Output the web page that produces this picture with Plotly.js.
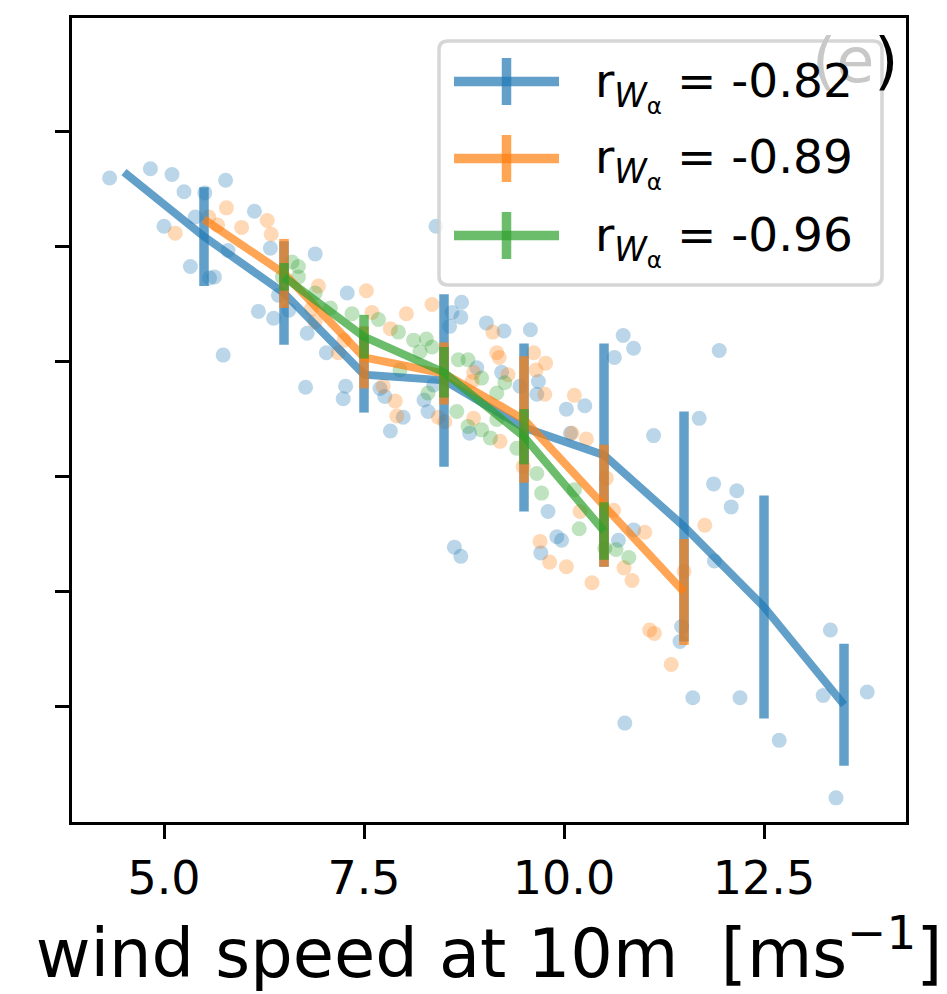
<!DOCTYPE html>
<html>
<head>
<meta charset="utf-8">
<script src="https://cdn.plot.ly/plotly-3.0.1.min.js"></script>
<style>body{margin:0;padding:0;background:#fff;} #chart{width:947px;height:994px;}</style>
</head>
<body>
<div id="chart"></div>
<script>
// ---- binned means (lines with error bars) ----
const binsBlue = [4.5, 5.5, 6.5, 7.5, 8.5, 9.5, 10.5, 11.5, 12.5, 13.5];
const meanBlue = [5.65, 5.09, 4.60, 3.89, 3.84, 3.43, 3.19, 2.57, 1.87, 1.02];
const errBlue  = [0, 0.43, 0.45, 0.33, 0.75, 0.73, 0.97, 1.00, 0.97, 0.53];

const binsOrange = [5.5, 6.5, 7.5, 8.5, 9.5, 10.5, 11.5];
const meanOrange = [5.24, 4.77, 4.04, 3.90, 3.50, 2.75, 2.00];
const errOrange  = [0, 0.30, 0.27, 0.27, 0.55, 0.53, 0.46];

const binsGreen = [6.5, 7.5, 8.5, 9.5, 10.5];
const meanGreen = [4.74, 4.22, 3.91, 3.35, 2.53];
const errGreen  = [0.12, 0.19, 0.22, 0.24, 0.25];

// ---- individual samples ----
const blueX = [4.32,4.83,5.10,5.25,5.77,5.51,5.39,5.00,6.13,5.80,5.33,5.57,5.63,6.33,6.89,6.18,6.37,6.56,6.43,6.79,7.29,7.03,5.74,6.77,7.27,7.24,8.40,8.60,8.72,8.71,8.57,9.03,9.25,9.58,8.91,9.22,9.45,9.68,9.66,10.03,10.08,7.70,7.76,7.99,7.83,8.25,8.30,8.37,8.82,10.26,10.74,10.87,10.63,11.12,11.69,9.80,9.91,9.97,9.71,10.68,10.87,8.63,8.71,11.94,11.87,12.16,12.09,11.88,11.47,11.45,13.33,11.61,12.20,13.24,13.79,10.76,12.69,13.40];
const blueY = [5.60,5.68,5.63,5.48,5.58,5.47,5.26,5.18,5.31,4.97,4.83,4.73,4.74,4.99,4.94,4.44,4.38,4.45,4.58,4.25,4.60,4.08,4.06,3.78,3.79,3.68,5.18,4.43,4.52,4.39,4.31,4.34,4.27,4.28,3.95,3.91,3.79,3.83,3.72,3.59,3.38,3.77,3.70,3.52,3.40,3.67,3.57,3.80,3.38,3.62,4.23,4.12,4.04,3.36,3.51,2.70,2.48,2.45,2.34,2.45,2.54,2.39,2.31,4.10,2.94,2.88,2.74,2.27,1.70,1.57,1.67,1.08,1.08,1.10,1.13,0.86,0.71,0.21];

const orangeX = [5.78,5.56,5.67,5.97,5.14,6.29,6.34,6.93,6.84,6.89,7.25,7.18,7.53,7.60,8.03,8.35,7.83,9.11,9.16,9.19,9.62,9.77,9.65,9.76,10.13,9.30,8.87,8.85,7.74,7.89,7.91,8.43,8.51,8.87,9.20,10.10,9.49,10.28,10.53,10.62,10.20,11.01,9.70,9.82,10.03,10.35,10.75,10.85,11.50,11.76,11.07,11.13,11.34];
const orangeY = [5.34,5.26,5.19,5.17,5.12,5.23,5.11,4.66,4.46,4.35,4.19,4.08,4.62,4.43,4.42,4.50,4.29,4.26,4.08,4.04,4.08,3.99,3.93,3.72,3.71,3.89,3.91,3.83,3.79,3.66,3.53,3.52,3.48,3.51,3.31,3.38,3.09,3.33,2.99,2.71,2.70,2.52,2.44,2.26,2.22,2.08,2.21,2.10,2.18,2.58,1.67,1.64,1.37];

const greenX = [6.60,6.68,6.48,6.68,6.89,7.08,7.35,7.68,7.93,8.12,8.28,8.35,8.20,7.95,8.30,8.68,8.80,8.97,9.16,8.66,8.80,8.97,9.08,9.41,9.66,9.26,9.16,9.72,10.13,10.19,10.51,10.65,10.81];
const greenY = [4.87,4.83,4.74,4.74,4.60,4.47,4.42,4.37,4.26,4.19,4.20,4.13,4.09,3.93,3.73,4.02,4.02,3.86,3.73,3.57,3.44,3.41,3.34,3.25,3.03,3.82,3.50,2.86,2.89,2.55,2.38,2.37,2.30];

const legendLabels = ['-0.82', '-0.89', '-0.96'];
const xTickVals = [5, 7.5, 10, 12.5];
const xTickText = ['5.0', '7.5', '10.0', '12.5'];
const yTickVals = [1, 2, 3, 4, 5, 6];

// ---- styling ----
const rgb = {blue: [31,119,180], orange: [255,127,14], green: [44,160,44]};
const rgba = (c, a) => `rgba(${c[0]},${c[1]},${c[2]},${a})`;
const FONT = 'DejaVu Sans, Liberation Sans, sans-serif';

function scatterTrace(x, y, c) {
  return {x, y, type: 'scatter', mode: 'markers', showlegend: false, hoverinfo: 'skip',
    marker: {size: 15, color: rgba(c, 0.3), line: {width: 0}}};
}
function lineTrace(x, y, e, c) {
  return {x, y, type: 'scatter', mode: 'lines', showlegend: false, hoverinfo: 'skip',
    line: {color: rgba(c, 0.7), width: 8},
    error_y: {type: 'data', array: e, visible: true, thickness: 9.5, width: 0, color: rgba(c, 0.7)}};
}

const data = [
  scatterTrace(blueX, blueY, rgb.blue),
  scatterTrace(orangeX, orangeY, rgb.orange),
  scatterTrace(greenX, greenY, rgb.green),
  lineTrace(binsBlue, meanBlue, errBlue, rgb.blue),
  lineTrace(binsOrange, meanOrange, errOrange, rgb.orange),
  lineTrace(binsGreen, meanGreen, errGreen, rgb.green)
];

// plot area in pixels: x 72..906, y 18..822
const L = 72, R = 906, T = 18, B = 822;
const px = p => (p - L) / (R - L);
const py = p => (B - p) / (B - T);

// manual legend (error-bar style keys)
const box = {x0: 439, x1: 882, y0: 41, y1: 285, r: 9};
function roundRect(b) {
  const x0 = px(b.x0), x1 = px(b.x1), y0 = py(b.y0), y1 = py(b.y1);
  const rx = b.r / (R - L), ry = b.r / (B - T);
  return `M${x0+rx},${y0} L${x1-rx},${y0} Q${x1},${y0} ${x1},${y0-ry} L${x1},${y1+ry} Q${x1},${y1} ${x1-rx},${y1} L${x0+rx},${y1} Q${x0},${y1} ${x0},${y1+ry} L${x0},${y0-ry} Q${x0},${y0} ${x0+rx},${y0} Z`;
}
const rowsY = [81.5, 158.5, 235.5];
const keyColors = [rgb.blue, rgb.orange, rgb.green];
const shapes = [{type: 'path', xref: 'paper', yref: 'paper', path: roundRect(box),
  fillcolor: 'rgba(255,255,255,0.8)', line: {color: 'rgba(204,204,204,0.8)', width: 3.5}, layer: 'above'}];
const annotations = [{
  xref: 'paper', yref: 'paper', x: px(901), y: py(61), xanchor: 'right', yanchor: 'middle',
  text: "<span style='color:#c8c8c8'>(e</span>)", showarrow: false,
  font: {family: FONT, size: 62, color: '#000'}
}];
rowsY.forEach((yy, i) => {
  shapes.push({type: 'line', xref: 'paper', yref: 'paper', x0: px(454), x1: px(559), y0: py(yy), y1: py(yy),
    line: {color: rgba(keyColors[i], 0.7), width: 9.5}, layer: 'above'});
  shapes.push({type: 'line', xref: 'paper', yref: 'paper', x0: px(506.5), x1: px(506.5), y0: py(yy - 23.5), y1: py(yy + 23.5),
    line: {color: rgba(keyColors[i], 0.7), width: 9.5}, layer: 'above'});
  annotations.push({xref: 'paper', yref: 'paper', x: px(593), y: py(yy + 4), xanchor: 'left', yanchor: 'middle',
    text: 'r<sub><i>W</i><sub>α</sub></sub> = ' + legendLabels[i], showarrow: false,
    font: {family: FONT, size: 47, color: '#000'}});
});

const layout = {
  width: 947, height: 994,
  margin: {l: L, r: 947 - R, t: T, b: 994 - B, pad: 0},
  paper_bgcolor: '#fff', plot_bgcolor: '#fff',
  font: {family: FONT, color: '#000'},
  showlegend: false,
  xaxis: {
    range: [3.85, 14.275], tickvals: xTickVals, ticktext: xTickText,
    ticks: 'outside', ticklen: 14, tickwidth: 3, tickcolor: '#000',
    showline: true, mirror: true, linecolor: '#000', linewidth: 3,
    showgrid: false, zeroline: false,
    tickfont: {family: FONT, size: 46, color: '#000'},
    title: {text: 'wind speed at 10m\u00a0\u00a0[ms<sup>\u22121</sup>]', font: {family: FONT, size: 67, color: '#000'}, standoff: 14}
  },
  yaxis: {
    range: [0, 6.991], tickvals: yTickVals, showticklabels: false,
    ticks: 'outside', ticklen: 14, tickwidth: 3, tickcolor: '#000',
    showline: true, mirror: true, linecolor: '#000', linewidth: 3,
    showgrid: false, zeroline: false
  },
  shapes, annotations
};

Plotly.newPlot('chart', data, layout, {displayModeBar: false, staticPlot: true});
</script>
</body>
</html>
